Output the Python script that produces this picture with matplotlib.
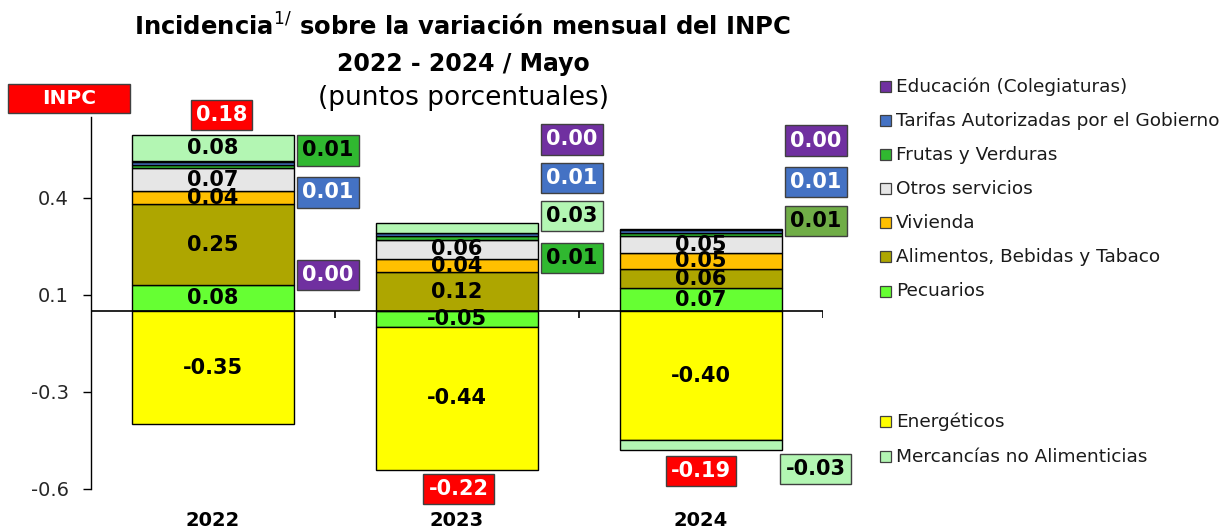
import numpy as np
import matplotlib
matplotlib.use("Agg")
import matplotlib.pyplot as plt
from matplotlib.patches import Rectangle

# datos (puntos porcentuales)
years = ["2022", "2023", "2024"]
inpc = [0.18, -0.22, -0.19]

pecuarios = [0.08, -0.05, 0.07]
alimentos = [0.25, 0.12, 0.06]
vivienda = [0.04, 0.04, 0.05]
otros_serv = [0.07, 0.06, 0.05]
frutas = [0.01, 0.01, 0.01]
tarifas = [0.01, 0.01, 0.01]
educacion = [0.003, 0.002, 0.002]
energeticos = [-0.35, -0.44, -0.40]
mercancias = [0.08, 0.03, -0.03]

ytick_vals = [-0.55, -0.25, 0.05, 0.35]
ytick_labels = ["-0.6", "-0.3", "0.1", "0.4"]

# orden de apilado
series = [
    ("Pecuarios", pecuarios, "#66FF33"),
    ("Alimentos, Bebidas y Tabaco", alimentos, "#AEA600"),
    ("Vivienda", vivienda, "#FFC000"),
    ("Otros servicios", otros_serv, "#E6E6E6"),
    ("Frutas y Verduras", frutas, "#30B830"),
    ("Tarifas Autorizadas por el Gobierno", tarifas, "#4472C4"),
    ("Educación (Colegiaturas)", educacion, "#7030A0"),
    ("Energéticos", energeticos, "#FFFF00"),
    ("Mercancías no Alimenticias", mercancias, "#B3F6B3"),
]
colors = {name: c for name, _, c in series}
values = {name: v for name, v, _ in series}

# cajas laterales: (serie, año) -> (x offset, y, color de fondo)
side_boxes = {
    ("Frutas y Verduras", 0): (0.47, 0.496, None),
    ("Tarifas Autorizadas por el Gobierno", 0): (0.47, 0.366, None),
    ("Educación (Colegiaturas)", 0): (0.47, 0.111, None),
    ("Educación (Colegiaturas)", 1): (0.47, 0.530, None),
    ("Tarifas Autorizadas por el Gobierno", 1): (0.47, 0.411, None),
    ("Mercancías no Alimenticias", 1): (0.47, 0.293, None),
    ("Frutas y Verduras", 1): (0.47, 0.163, None),
    ("Educación (Colegiaturas)", 2): (0.47, 0.526, None),
    ("Tarifas Autorizadas por el Gobierno", 2): (0.47, 0.399, None),
    ("Frutas y Verduras", 2): (0.47, 0.277, "#70AD47"),
    ("Mercancías no Alimenticias", 2): (0.47, -0.489, None),
}
inpc_pos = [(0.035, 0.605), (1.007, -0.550), (2.0, -0.494)]
white_text = {"#7030A0", "#4472C4", "#FF0000"}

legend_top = ["Educación (Colegiaturas)", "Tarifas Autorizadas por el Gobierno",
              "Frutas y Verduras", "Otros servicios", "Vivienda",
              "Alimentos, Bebidas y Tabaco", "Pecuarios"]
legend_bottom = ["Energéticos", "Mercancías no Alimenticias"]

W, H = 1224, 531
fig = plt.figure(figsize=(W / 100, H / 100), dpi=100)
ax = fig.add_axes([91 / W, 42 / H, 732 / W, 372.3 / H])

x = np.arange(len(years))
bw = 0.667
pos_bottom = np.zeros(len(years))
neg_bottom = np.zeros(len(years))

for name, vals, col in series:
    vals = np.array(vals, dtype=float)
    bottoms = np.where(vals >= 0, pos_bottom, neg_bottom)
    ax.bar(x, vals, bw, bottom=bottoms, color=col, edgecolor="black",
           linewidth=1.0, zorder=2)
    for i, v in enumerate(vals):
        if abs(v) >= 0.035:
            ax.text(x[i], bottoms[i] + v / 2, f"{v:.2f}", ha="center",
                    va="center", fontsize=15, fontweight="bold",
                    color="black", zorder=4)
    pos_bottom = pos_bottom + np.where(vals >= 0, vals, 0)
    neg_bottom = neg_bottom + np.where(vals < 0, vals, 0)

# cajas con valores pequeños
for (name, i), (dx, y, fc) in side_boxes.items():
    fc = fc or colors[name]
    tc = "white" if fc in white_text else "black"
    ax.text(x[i] + dx, y, f"{values[name][i]:.2f}", ha="center", va="center",
            fontsize=15, fontweight="bold", color=tc, zorder=5,
            bbox=dict(boxstyle="square,pad=0.25", fc=fc, ec="#404040", lw=1))

# INPC
for i, (px, py) in enumerate(inpc_pos):
    ax.text(px, py, f"{inpc[i]:.2f}", ha="center", va="center", fontsize=15,
            fontweight="bold", color="white", zorder=5,
            bbox=dict(boxstyle="square,pad=0.25", fc="#FF0000", ec="#404040", lw=1))

# ejes
ax.set_xlim(-0.5, 2.5)
ax.set_ylim(-0.55, 0.6)
ax.axhline(0, color="black", lw=1.2, zorder=3)
ax.vlines(np.arange(-0.5, 3.0, 1.0), -0.022, 0, color="black", lw=1.2, zorder=3)
for s in ["top", "right", "bottom"]:
    ax.spines[s].set_visible(False)
ax.spines["left"].set_linewidth(1.0)
ax.set_yticks(ytick_vals)
ax.set_yticklabels(ytick_labels)
ax.tick_params(axis="y", direction="out", length=6, width=1, pad=10,
               labelsize=14, labelcolor="#262626")
ax.set_xticks(x)
ax.set_xticklabels(years, fontsize=14, fontweight="bold")
ax.tick_params(axis="x", length=0, pad=16)

# titulo
cx = 463 / W
fig.text(cx, 1 - 36 / H, r"Incidencia$^{1/}$ sobre la variación mensual del INPC",
         ha="center", va="baseline", fontsize=17.5, fontweight="bold")
fig.text(cx, 1 - 70.7 / H, "2022 - 2024 / Mayo", ha="center", va="baseline",
         fontsize=17, fontweight="bold")
fig.text(cx, 1 - 105 / H, "(puntos porcentuales)", ha="center", va="baseline",
         fontsize=19)

# caja INPC
fig.add_artist(Rectangle((7.7 / W, 1 - 113 / H), 122 / W, 28.7 / H,
                         transform=fig.transFigure, fc="#FF0000", ec="#404040", lw=1))
fig.text(68.7 / W, 1 - 98.6 / H, "INPC", ha="center", va="center", fontsize=14.5,
         fontweight="bold", color="white")

# leyenda
def legend_item(name, yc):
    fig.add_artist(Rectangle((879.5 / W, 1 - (yc + 5.5) / H), 11 / W, 11 / H,
                             transform=fig.transFigure, fc=colors[name],
                             ec="#404040", lw=0.9))
    fig.text(896 / W, 1 - yc / H, name, ha="left", va="center", fontsize=13.3,
             color="#1a1a1a")

for k, name in enumerate(legend_top):
    legend_item(name, 86.7 + 34.05 * k)
for k, name in enumerate(legend_bottom):
    legend_item(name, 421.7 + 35 * k)

fig.savefig("out.png", dpi=100)
